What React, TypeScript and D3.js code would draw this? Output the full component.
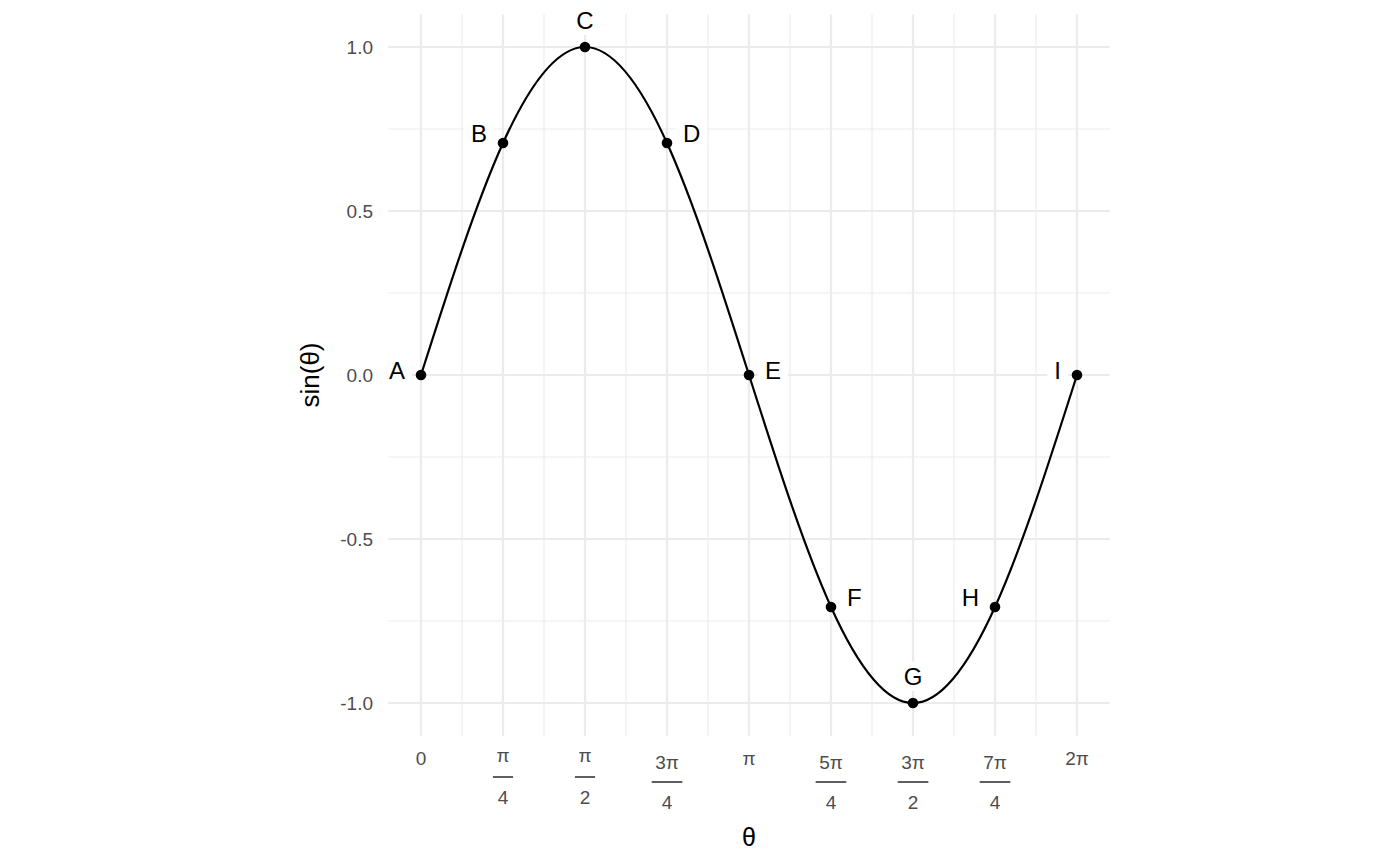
import React from "react";
import * as d3 from "d3";

const pointLabels = ["A", "B", "C", "D", "E", "F", "G", "H", "I"];
const thetaSteps = [0, 1, 2, 3, 4, 5, 6, 7, 8]; // multiples of π/4
const sinValues = [0, 0.7071, 1, 0.7071, 0, -0.7071, -1, -0.7071, 0];
const labelSides = ["left", "left", "above", "right", "right", "right", "above", "left", "left"];

const tickNumerators = ["0", "π", "π", "3π", "π", "5π", "3π", "7π", "2π"];
const tickDenominators = ["", "4", "2", "4", "", "4", "2", "4", ""];
const yTicks = [-1, -0.5, 0, 0.5, 1];
const yTickLabels = ["-1.0", "-0.5", "0.0", "0.5", "1.0"];
const yMinor = [-0.75, -0.25, 0.25, 0.75];
const xMinorSteps = [0.5, 1.5, 2.5, 3.5, 4.5, 5.5, 6.5, 7.5];

const FONT = "'Liberation Sans', Arial, Helvetica, sans-serif";

let ctx: CanvasRenderingContext2D | null = null;
function textWidth(t: string, size: number) {
  if (!ctx) ctx = document.createElement("canvas").getContext("2d");
  if (!ctx) return t.length * size * 0.6;
  ctx.font = `${size}px ${FONT}`;
  return ctx.measureText(t).width;
}

export default function App() {
  const W = 1400, H = 866;
  const step = Math.PI / 4;
  const x = d3.scaleLinear().domain([0, 2 * Math.PI]).range([421, 1077]);
  const y = d3.scaleLinear().domain([-1, 1]).range([703, 47]);
  const [x0, x1] = [x(-0.1 * Math.PI), x(2.1 * Math.PI)];
  const [y0, y1] = [y(1.1), y(-1.1)];

  const pts = thetaSteps.map((k, i) => ({ t: k * step, v: sinValues[i], lab: pointLabels[i], side: labelSides[i] }));
  const line = d3.line<{ t: number; v: number }>().x(d => x(d.t)).y(d => y(d.v)).curve(d3.curveNatural);

  const tickFont = 19;
  const labFont = 24;
  const titleFont = 25;
  const gridCol = "#ebebeb";
  const tickCol = "#4d4d4d";

  const place = (p: any) => {
    const px = x(p.t), py = y(p.v);
    let anchor: any = "middle", tx = px, base = py - 18;
    if (p.side === "left") { anchor = "end"; tx = px - 16; }
    if (p.side === "right") { anchor = "start"; tx = px + 16; }
    if (p.side !== "above") base = p.v === 0 ? py + 3.5 : py - 1;
    return { anchor, tx, base };
  };

  return (
    <svg width={W} height={H} style={{ position: "absolute", left: 0, top: 0, background: "#fff" }} fontFamily={FONT}>
      {/* minor grid */}
      {yMinor.map(v => (
        <line key={"ym" + v} x1={x0} x2={x1} y1={y(v)} y2={y(v)} stroke={gridCol} strokeWidth={1.1} />
      ))}
      {xMinorSteps.map(k => (
        <line key={"xm" + k} x1={x(k * step)} x2={x(k * step)} y1={y0} y2={y1} stroke={gridCol} strokeWidth={1.1} />
      ))}
      {/* major grid */}
      {yTicks.map(v => (
        <line key={"yM" + v} x1={x0} x2={x1} y1={y(v)} y2={y(v)} stroke={gridCol} strokeWidth={2.2} />
      ))}
      {thetaSteps.map(k => (
        <line key={"xM" + k} x1={x(k * step)} x2={x(k * step)} y1={y0} y2={y1} stroke={gridCol} strokeWidth={2.2} />
      ))}

      {/* curve */}
      <path d={line(pts) || ""} fill="none" stroke="#000" strokeWidth={2.2} />

      {/* label boxes */}
      {pts.map((p, i) => {
        const { anchor, tx, base } = place(p);
        const w = textWidth(p.lab, labFont);
        const left = anchor === "end" ? tx - w : anchor === "start" ? tx : tx - w / 2;
        const cap = labFont * 0.716;
        return (
          <rect key={"lb" + i} x={left - 7} y={base - cap - 6} width={w + 14} height={cap + 12} fill="#fff" rx={3} />
        );
      })}
      {pts.map((p, i) => {
        const { anchor, tx, base } = place(p);
        return (
          <text key={"lt" + i} x={tx} y={base} textAnchor={anchor} fontSize={labFont} fill="#000">{p.lab}</text>
        );
      })}

      {/* points */}
      {pts.map((p, i) => (
        <circle key={"pt" + i} cx={x(p.t)} cy={y(p.v)} r={5.3} fill="#000" />
      ))}

      {/* y tick labels */}
      {yTicks.map((v, i) => (
        <text key={"yt" + v} x={373} y={y(v) + 6.8} textAnchor="end" fontSize={tickFont} fill={tickCol}>{yTickLabels[i]}</text>
      ))}

      {/* x tick labels */}
      {thetaSteps.map((k, i) => {
        const cx = x(k * step);
        const num = tickNumerators[i], den = tickDenominators[i];
        if (!den) {
          return <text key={"xt" + k} x={cx} y={765} textAnchor="middle" fontSize={tickFont} fill={tickCol}>{num}</text>;
        }
        const wide = num.length > 1;
        const barY = wide ? 782 : 777;
        const bw = textWidth(num, tickFont) + 7;
        return (
          <g key={"xt" + k}>
            <text x={cx} y={wide ? 768.5 : 762} textAnchor="middle" fontSize={tickFont} fill={tickCol}>{num}</text>
            <line x1={cx - bw / 2} x2={cx + bw / 2} y1={barY} y2={barY} stroke={tickCol} strokeWidth={1.8} />
            <text x={cx} y={barY + 27} textAnchor="middle" fontSize={tickFont} fill={tickCol}>{den}</text>
          </g>
        );
      })}

      {/* axis titles */}
      <text x={749} y={846} textAnchor="middle" fontSize={titleFont} fill="#000">θ</text>
      <text transform={`translate(310,${(y0 + y1) / 2}) rotate(-90)`} dy="0.35em" textAnchor="middle" fontSize={26} fill="#000">sin(θ)</text>
    </svg>
  );
}
